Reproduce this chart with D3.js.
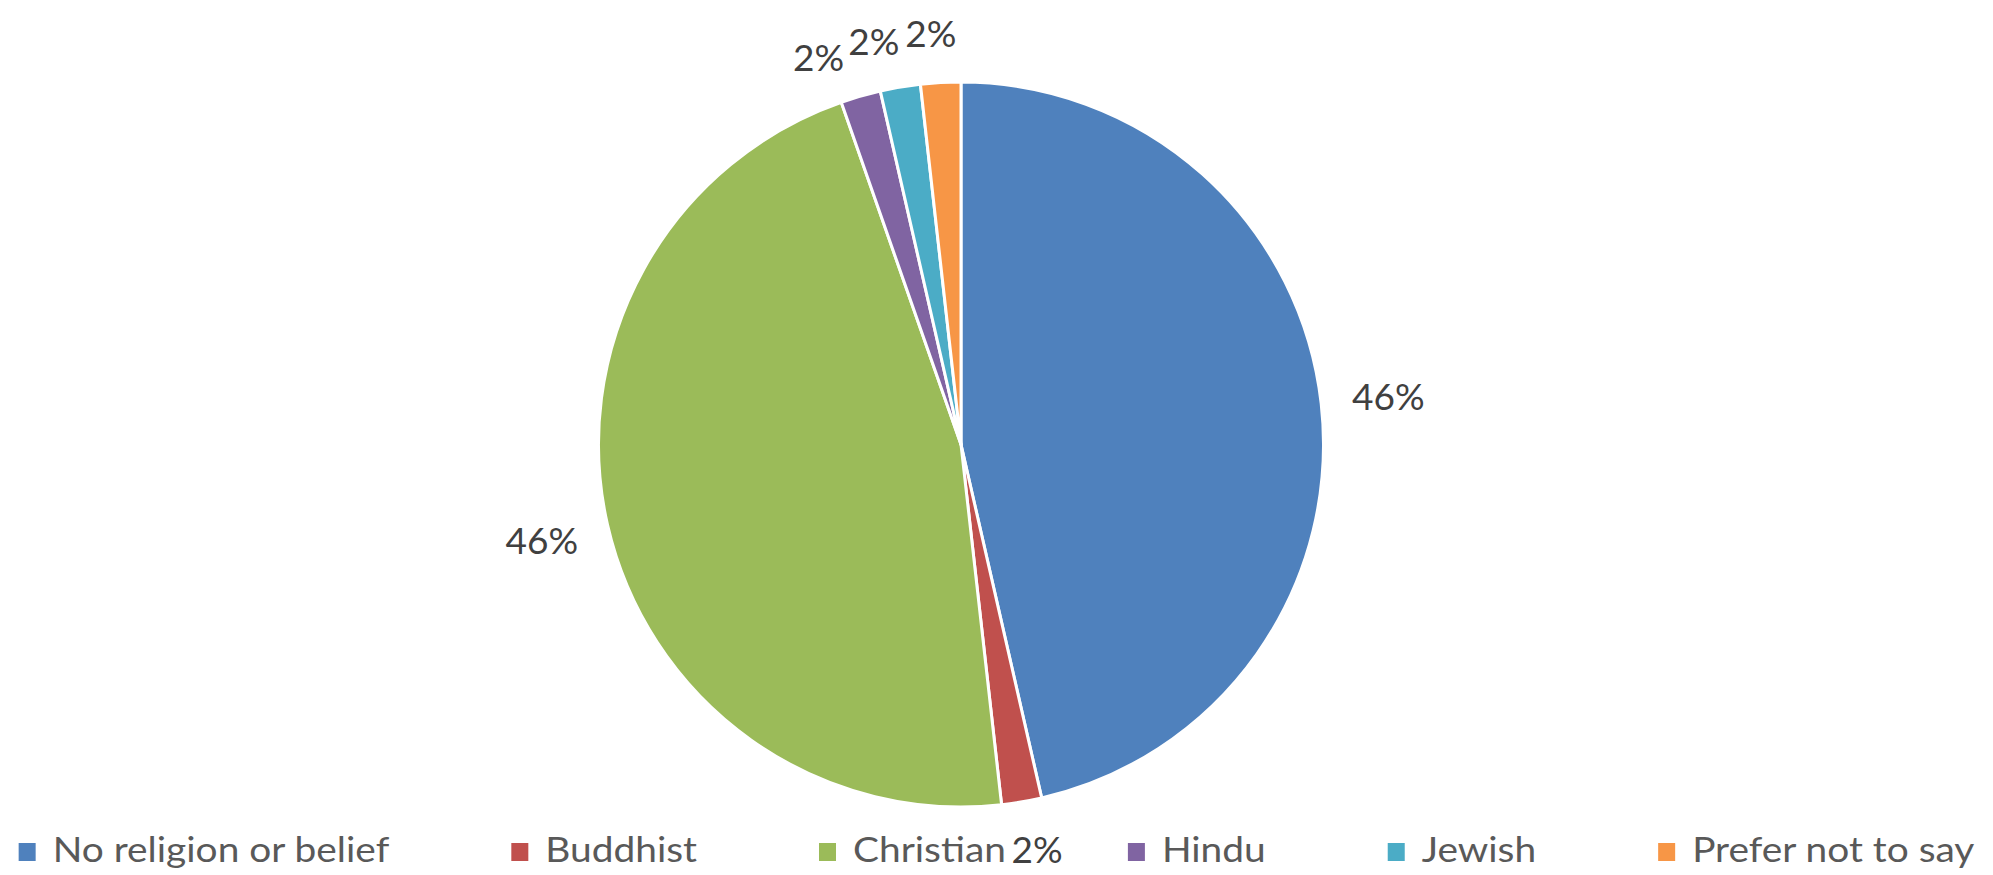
<!DOCTYPE html>
<html>
<head>
<meta charset="utf-8">
<script src="https://cdn.jsdelivr.net/npm/d3@7"></script>
<style>
  body { margin: 0; background: #fff; }
  svg { display: block; }
</style>
</head>
<body>
<svg id="svg" width="1993" height="875"></svg>
<script>
const width = 1993;
const height = 875;
const centerX = 961;
const centerY = 444.5;
const radius = 362.5;
const fontFamily = 'Lato, "Open Sans", sans-serif';
const labelColor = '#404040';
const legendColor = '#595959';
const labelSize = 37;
const legendSize = 34;
const legendStretch = 1.143;

// data
const categories = ['No religion or belief', 'Buddhist', 'Christian', 'Hindu', 'Jewish', 'Prefer not to say'];
const counts = [26, 1, 26, 1, 1, 1];
const colors = ['#4F81BD', '#C0504D', '#9BBB59', '#8064A2', '#4BACC6', '#F79646'];

const total = d3.sum(counts);
const svg = d3.select('#svg');
const pieData = d3.pie().sort(null)(counts);

renderSlices();
renderLabels();
renderLegend();

function renderSlices() {
	const arc = d3.arc().innerRadius(0).outerRadius(radius);

	svg.append('g')
		.attr('transform', 'translate(' + centerX + ',' + centerY + ')')
		.selectAll('path')
		.data(pieData)
		.enter()
		.append('path')
		.attr('d', arc)
		.attr('fill', (d, i) => colors[i])
		.attr('stroke', '#fff')
		.attr('stroke-width', 3)
		.attr('stroke-linejoin', 'round');
}

function renderLabels() {
	// big slices sit on the centroid further out, small ones are pushed apart
	const minGap = 8 * Math.PI / 180;
	const nudge = 1 * Math.PI / 180;
	const pos = pieData.map(d => {
		const small = d.value / total < 0.1;
		return {
			small: small,
			r: small ? 412 : 430,
			a: (d.startAngle + d.endAngle) / 2 - (small ? nudge : 0)
		};
	});
	for (let i = pos.length - 2; i >= 0; i--) {
		if (pos[i].small && pos[i + 1].small && pos[i + 1].a - pos[i].a < minGap) {
			pos[i].a = pos[i + 1].a - minGap;
		}
	}

	svg.append('g')
		.attr('transform', 'translate(' + centerX + ',' + centerY + ')')
		.selectAll('text')
		.data(pieData)
		.enter()
		.append('text')
		.attr('x', (d, i) => pos[i].r * Math.sin(pos[i].a))
		.attr('y', (d, i) => -pos[i].r * Math.cos(pos[i].a))
		.attr('dy', '0.36em')
		.attr('text-anchor', 'middle')
		.style('font-family', fontFamily)
		.style('font-size', labelSize + 'px')
		.style('fill', labelColor)
		.text(d => d3.format('.0%')(d.value / total));
}

function renderLegend() {
	const boxW = 17;
	const boxH = 18;
	const boxGap = 17;
	const itemGap = 122;
	const baseline = 862;

	const legend = svg.append('g');
	let x = 0;
	categories.forEach((c, i) => {
		legend.append('rect')
			.attr('x', x)
			.attr('y', baseline - 19)
			.attr('width', boxW)
			.attr('height', boxH)
			.attr('fill', colors[i]);
		const t = legend.append('text')
			.attr('x', x + boxW + boxGap)
			.attr('y', baseline)
			.style('font-family', fontFamily)
			.style('font-size', legendSize + 'px')
			.style('fill', legendColor)
			.text(c);
		const w = t.node().getComputedTextLength() * legendStretch;
		t.attr('textLength', w).attr('lengthAdjust', 'spacingAndGlyphs');
		x += boxW + boxGap + w + itemGap;
	});
	const legendWidth = x - itemGap;
	legend.attr('transform', 'translate(' + ((width - legendWidth) / 2) + ',0)');
}
</script>
</body>
</html>
